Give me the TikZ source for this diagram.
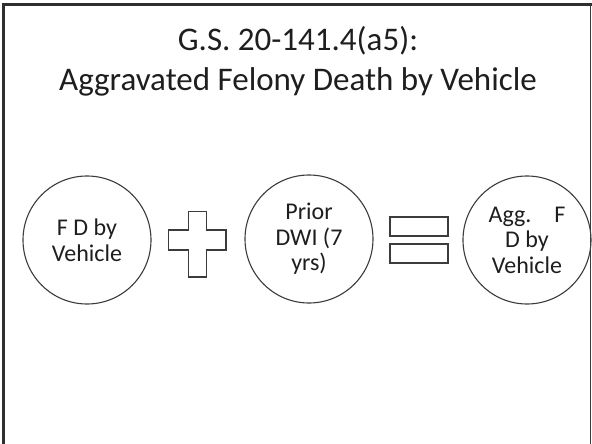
\documentclass[tikz,border=0pt]{standalone}
\usepackage{fontspec}
\setmainfont{Carlito}
\definecolor{ink}{HTML}{1E1E1E}
\definecolor{edge}{HTML}{3C3C3C}
\definecolor{frame}{HTML}{2E2E2E}
\tikzset{
  termcircle/.style={circle, draw=edge, line width=1.1pt, minimum size=128pt,
    inner sep=0pt, align=center, text=ink,
    font=\fontsize{24}{25.5}\selectfont},
  opshape/.style={draw=edge, line width=1.3pt, fill=white},
  titletext/.style={align=center, text=ink, font=\fontsize{33}{40}\selectfont}
}
\begin{document}
\begin{tikzpicture}[x=1pt,y=-1pt]
\useasboundingbox (0,0) rectangle (592,444);
\fill[white] (0,0) rectangle (592,444);

% slide frame (open at the bottom)
\draw[frame, line width=3pt] (3.5,444) -- (3.5,4.5);
\draw[frame, line width=2.5pt] (2,4.5) -- (592,4.5);
\draw[edge, line width=1.5pt] (590.5,4.5) -- (590.5,444);

% title
\node[titletext] (title) at (298,61) {G.S. 20-141.4(a5):\\Aggravated Felony Death by Vehicle};

% the three terms
\node[termcircle] (fd) at (87,240) {F D by\\Vehicle};
\node[termcircle] (prior) at (309,239) {Prior\\DWI (7\\yrs)};
\node[termcircle] (agg) at (527,240) {Agg.\hspace{0.95em}F\\D by\\Vehicle};

% plus sign
\coordinate (plus) at (197,240);
\draw[opshape] (188.3,211.7) -- (206.7,211.7) -- (206.7,230) -- (226,230)
  -- (226,250) -- (206.7,250) -- (206.7,277) -- (188.3,277) -- (188.3,250)
  -- (168.3,250) -- (168.3,230) -- (188.3,230) -- cycle;

% equals sign
\coordinate (equals) at (419,240);
\draw[opshape] (390,217) rectangle (448,236);
\draw[opshape] (390,244) rectangle (448,263);
\end{tikzpicture}
\end{document}
